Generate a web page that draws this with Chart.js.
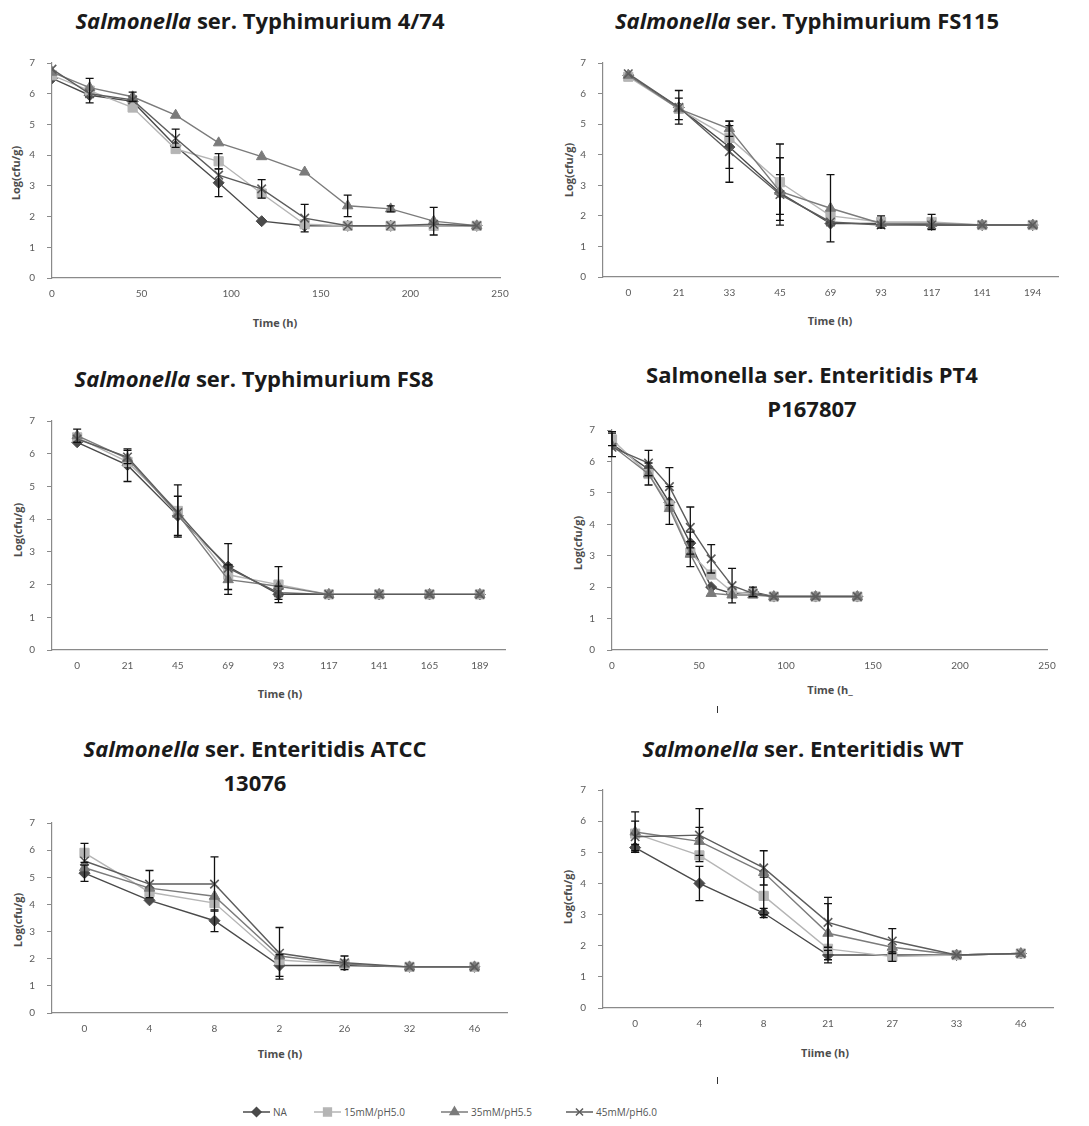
<!DOCTYPE html>
<html>
<head>
<meta charset="utf-8">
<script src="https://cdn.jsdelivr.net/npm/chart.js@4.4.0/dist/chart.umd.min.js"></script>
<style>
  body { margin: 0; background: #fff; }
  #page { position: relative; width: 1089px; height: 1126px; font-family: "Open Sans", Lato, sans-serif; }
  .title { position: absolute; transform: translate(-50%, -50%); font-weight: bold; font-size: 22px; color: #1a1a1a; white-space: nowrap; text-align: center; line-height: 34px; }
  .xt { position: absolute; transform: translate(-50%, -50%); font-weight: bold; font-size: 11px; color: #4d4d4d; white-space: nowrap; }
  .yt { position: absolute; transform: translate(-50%, -50%) rotate(-90deg); font-weight: bold; font-size: 11px; color: #4d4d4d; white-space: nowrap; }
  canvas.panel { position: absolute; }
  .mark { position: absolute; width: 1px; height: 7px; background: #333; }
  #legend { position: absolute; left: 0; top: 1104px; width: 1089px; height: 16px; }
  .item { position: absolute; top: 0; height: 16px; display: flex; align-items: center; font-size: 10px; color: #555; }
</style>
</head>
<body>
<div id="page">
  <div class="title" style="left:260px;top:20px"><i>Salmonella</i> ser. Typhimurium 4/74</div>
  <div class="title" style="left:807px;top:20px"><i>Salmonella</i> ser. Typhimurium FS115</div>
  <div class="title" style="left:254px;top:378px"><i>Salmonella</i> ser. Typhimurium FS8</div>
  <div class="title" style="left:812px;top:391px">Salmonella ser. Enteritidis PT4<br>P167807</div>
  <div class="title" style="left:255px;top:765px"><i>Salmonella</i> ser. Enteritidis ATCC<br>13076</div>
  <div class="title" style="left:803px;top:748px"><i>Salmonella</i> ser. Enteritidis WT</div>

  <div class="xt" style="left:275px;top:322px">Time (h)</div>
  <div class="xt" style="left:830px;top:320px">Time (h)</div>
  <div class="xt" style="left:280px;top:693px">Time (h)</div>
  <div class="xt" style="left:830px;top:689px">Time (h_</div>
  <div class="xt" style="left:280px;top:1053px">Time (h)</div>
  <div class="xt" style="left:825px;top:1052px">Tiime (h)</div>

  <div class="yt" style="left:15px;top:173px">Log(cfu/g)</div>
  <div class="yt" style="left:568px;top:170px">Log(cfu/g)</div>
  <div class="yt" style="left:17px;top:530px">Log(cfu/g)</div>
  <div class="yt" style="left:577px;top:543px">Log(cfu/g)</div>
  <div class="yt" style="left:17px;top:920px">Log(cfu/g)</div>
  <div class="yt" style="left:567px;top:897px">Log(cfu/g)</div>

  <div class="mark" style="left:717px;top:706px"></div>
  <div class="mark" style="left:717px;top:1077px"></div>

  <div id="legend"></div>
</div>
<script>
const seriesNames = ["NA", "15mM/pH5.0", "35mM/pH5.5", "45mM/pH6.0"];

// Typhimurium 4/74 (hours on a linear axis)
const t474Hours = [0, 21, 45, 69, 93, 117, 141, 165, 189, 213, 237];
const t474NA = [6.5, 5.95, 5.75, 4.3, 3.1, 1.85, 1.7, 1.7, 1.7, 1.7, 1.7];
const t474Mm15 = [6.6, 6.1, 5.55, 4.2, 3.8, 2.75, 1.75, 1.7, 1.7, 1.7, 1.7];
const t474Mm35 = [6.7, 6.2, 5.9, 5.3, 4.4, 3.95, 3.45, 2.35, 2.25, 1.85, 1.7];
const t474Mm45 = [6.8, 6.0, 5.8, 4.55, 3.35, 2.9, 1.95, 1.7, 1.7, 1.75, 1.7];
const t474ErrNA = [0, 0, 0, 0, 0.45, 0, 0, 0, 0, 0, 0];
const t474Err15 = [0, 0.4, 0, 0, 0.25, 0, 0, 0, 0, 0, 0];
const t474Err35 = [0, 0, 0.15, 0, 0, 0, 0, 0.35, 0.1, 0.45, 0];
const t474Err45 = [0, 0, 0, 0.3, 0, 0.3, 0.45, 0, 0, 0, 0];

// Typhimurium FS115
const fs115Labels = ["0", "21", "33", "45", "69", "93", "117", "141", "194"];
const fs115NA = [6.6, 5.55, 4.25, 2.75, 1.75, 1.75, 1.7, 1.7, 1.7];
const fs115Mm15 = [6.55, 5.5, 4.55, 3.1, 2.0, 1.8, 1.8, 1.7, 1.7];
const fs115Mm35 = [6.6, 5.5, 4.85, 2.8, 2.25, 1.75, 1.75, 1.7, 1.7];
const fs115Mm45 = [6.65, 5.55, 4.1, 2.7, 1.8, 1.7, 1.7, 1.7, 1.7];
const fs115ErrNA = [0, 0.55, 0.7, 0, 0, 0, 0, 0, 0];
const fs115Err15 = [0, 0.35, 0, 1.25, 0, 0.2, 0.25, 0, 0];
const fs115Err35 = [0, 0, 0.25, 1.1, 1.1, 0, 0, 0, 0];
const fs115Err45 = [0, 0, 1.0, 0.65, 0, 0, 0, 0, 0];

// Typhimurium FS8
const fs8Labels = ["0", "21", "45", "69", "93", "117", "141", "165", "189"];
const fs8NA = [6.35, 5.65, 4.1, 2.55, 1.7, 1.7, 1.7, 1.7, 1.7];
const fs8Mm15 = [6.5, 5.75, 4.25, 2.3, 2.0, 1.7, 1.7, 1.7, 1.7];
const fs8Mm35 = [6.55, 5.85, 4.15, 2.15, 1.95, 1.7, 1.7, 1.7, 1.7];
const fs8Mm45 = [6.45, 5.9, 4.2, 2.5, 1.75, 1.7, 1.7, 1.7, 1.7];
const fs8ErrNA = [0, 0.5, 0.6, 0.7, 0, 0, 0, 0, 0];
const fs8Err15 = [0, 0, 0.8, 0, 0.55, 0, 0, 0, 0];
const fs8Err35 = [0.2, 0, 0, 0.45, 0, 0, 0, 0, 0];
const fs8Err45 = [0, 0.2, 0, 0, 0.2, 0, 0, 0, 0];

// Enteritidis PT4 P167807 (hours on a linear axis)
const pt4Hours = [0, 21, 33, 45, 57, 69, 81, 93, 117, 141];
const pt4NA = [6.55, 5.75, 4.7, 3.4, 2.0, 1.8, 1.85, 1.7, 1.7, 1.7];
const pt4Mm15 = [6.7, 5.6, 4.6, 3.1, 2.4, 1.85, 1.8, 1.7, 1.7, 1.7];
const pt4Mm35 = [6.5, 5.6, 4.5, 3.05, 1.8, 1.75, 1.75, 1.7, 1.7, 1.7];
const pt4Mm45 = [6.45, 5.95, 5.2, 3.9, 2.9, 2.05, 1.8, 1.7, 1.7, 1.7];
const pt4ErrNA = [0.4, 0, 0, 0.35, 0, 0, 0.15, 0, 0, 0];
const pt4Err15 = [0.2, 0, 0.6, 0, 0, 0, 0, 0, 0, 0];
const pt4Err35 = [0, 0.35, 0, 0.4, 0, 0, 0, 0, 0, 0];
const pt4Err45 = [0, 0.4, 0.6, 0.65, 0.45, 0.55, 0, 0, 0, 0];

// Enteritidis ATCC 13076
const atccLabels = ["0", "4", "8", "2", "26", "32", "46"];
const atccNA = [5.15, 4.15, 3.4, 1.75, 1.75, 1.7, 1.7];
const atccMm15 = [5.9, 4.45, 4.05, 1.95, 1.8, 1.7, 1.7];
const atccMm35 = [5.35, 4.6, 4.3, 2.1, 1.8, 1.7, 1.7];
const atccMm45 = [5.6, 4.75, 4.75, 2.2, 1.85, 1.7, 1.7];
const atccErrNA = [0.3, 0, 0.4, 0.4, 0, 0, 0];
const atccErr15 = [0.35, 0, 0, 0, 0, 0, 0];
const atccErr35 = [0, 0, 0, 0, 0, 0, 0];
const atccErr45 = [0, 0.5, 1.0, 0.95, 0.25, 0, 0];

// Enteritidis WT
const wtLabels = ["0", "4", "8", "21", "27", "33", "46"];
const wtNA = [5.15, 4.0, 3.05, 1.7, 1.7, 1.7, 1.75];
const wtMm15 = [5.6, 4.9, 3.6, 1.9, 1.65, 1.7, 1.75];
const wtMm35 = [5.65, 5.35, 4.35, 2.4, 1.95, 1.7, 1.75];
const wtMm45 = [5.5, 5.55, 4.5, 2.75, 2.15, 1.7, 1.75];
const wtErrNA = [0.1, 0.55, 0.15, 0.15, 0, 0, 0];
const wtErr15 = [0, 0, 0.6, 0, 0.15, 0, 0];
const wtErr35 = [0.65, 0.45, 0, 0.95, 0, 0, 0];
const wtErr45 = [0.5, 0.85, 0.55, 0.8, 0.4, 0, 0];

const seriesStyle = [
  { color: "#4a4a4a", point: "rectRot", radius: 5.5 },
  { color: "#b5b5b5", point: "rect", radius: 6.5 },
  { color: "#7b7b7b", point: "triangle", radius: 6 },
  { color: "#5c5c5c", point: "crossRot", radius: 6 },
];

const axisGray = "#8a8a8a";
const tickFont = { family: "Lato, 'Open Sans', sans-serif", size: 10 };

// black error bars with short caps, drawn over the lines
const errorBars = {
  id: "errorBars",
  afterDatasetsDraw(chart) {
    const ctx = chart.ctx;
    const yScale = chart.scales.y;
    ctx.save();
    ctx.strokeStyle = "#111";
    ctx.lineWidth = 1.3;
    chart.data.datasets.forEach((ds, i) => {
      const meta = chart.getDatasetMeta(i);
      meta.data.forEach((pt, j) => {
        const e = ds.errors[j];
        if (!e) return;
        const v = meta.controller.getParsed(j).y;
        const top = yScale.getPixelForValue(v + e);
        const bottom = yScale.getPixelForValue(v - e);
        ctx.beginPath();
        ctx.moveTo(pt.x, top);
        ctx.lineTo(pt.x, bottom);
        ctx.moveTo(pt.x - 4, top);
        ctx.lineTo(pt.x + 4, top);
        ctx.moveTo(pt.x - 4, bottom);
        ctx.lineTo(pt.x + 4, bottom);
        ctx.stroke();
      });
    });
    ctx.restore();
  },
};

// box = plot area [left, top(7), right, bottom(0)]
function makePanel(box, xs, isLinear, values, errors) {
  const padL = 40, padT = 12, padR = 24, padB = 26;
  const canvas = document.createElement("canvas");
  const w = box[2] - box[0] + padL + padR;
  const h = box[3] - box[1] + padT + padB;
  canvas.width = w;
  canvas.height = h;
  canvas.className = "panel";
  canvas.style.left = (box[0] - padL) + "px";
  canvas.style.top = (box[1] - padT) + "px";
  document.getElementById("page").appendChild(canvas);

  // later series sit on top, so the 45mM crosses are drawn last
  const datasets = values.map((vals, k) => ({
    label: seriesNames[k],
    data: isLinear ? vals.map((v, i) => ({ x: xs[i], y: v })) : vals,
    errors: errors[k],
    order: values.length - k,
    borderColor: seriesStyle[k].color,
    backgroundColor: seriesStyle[k].color,
    pointStyle: seriesStyle[k].point,
    pointRadius: seriesStyle[k].radius,
    pointBorderWidth: seriesStyle[k].point === "crossRot" ? 1.6 : 1,
    borderWidth: 1.4,
    tension: 0,
  }));

  const xScale = isLinear
    ? { type: "linear", min: 0, max: 250, ticks: { stepSize: 50 } }
    : { type: "category", offset: true };

  new Chart(canvas, {
    type: "line",
    data: { labels: isLinear ? undefined : xs, datasets },
    options: {
      responsive: false,
      animation: false,
      events: [],
      layout: { padding: { top: padT, right: padR, left: 0, bottom: 0 } },
      plugins: { legend: { display: false }, tooltip: { enabled: false } },
      scales: {
        x: Object.assign(xScale, {
          grid: { display: true, drawOnChartArea: false, drawTicks: false, tickLength: 0 },
          border: { color: axisGray, width: 1.2 },
          ticks: Object.assign(xScale.ticks || {}, { color: "#5a5a5a", font: tickFont, padding: 10, maxRotation: 0, autoSkip: false }),
          afterFit: (s) => { s.height = padB; },
        }),
        y: {
          min: 0,
          max: 7,
          ticks: { stepSize: 1, color: "#5a5a5a", font: tickFont, padding: 12 },
          grid: { display: true, drawOnChartArea: false, tickLength: 5, color: axisGray },
          border: { color: axisGray, width: 1.2 },
          afterFit: (s) => { s.width = padL; },
        },
      },
    },
    plugins: [errorBars],
  });
}

makePanel([52, 57, 500, 278], t474Hours, true,
  [t474NA, t474Mm15, t474Mm35, t474Mm45], [t474ErrNA, t474Err15, t474Err35, t474Err45]);
makePanel([603, 57, 1058, 277], fs115Labels, false,
  [fs115NA, fs115Mm15, fs115Mm35, fs115Mm45], [fs115ErrNA, fs115Err15, fs115Err35, fs115Err45]);
makePanel([52, 415, 505, 650], fs8Labels, false,
  [fs8NA, fs8Mm15, fs8Mm35, fs8Mm45], [fs8ErrNA, fs8Err15, fs8Err35, fs8Err45]);
makePanel([612, 424, 1047, 650], pt4Hours, true,
  [pt4NA, pt4Mm15, pt4Mm35, pt4Mm45], [pt4ErrNA, pt4Err15, pt4Err35, pt4Err45]);
makePanel([52, 817, 507, 1013], atccLabels, false,
  [atccNA, atccMm15, atccMm35, atccMm45], [atccErrNA, atccErr15, atccErr35, atccErr45]);
makePanel([603, 784, 1053, 1008], wtLabels, false,
  [wtNA, wtMm15, wtMm35, wtMm45], [wtErrNA, wtErr15, wtErr35, wtErr45]);

// shared legend: short line with the series marker, then its name
const legendX = [242, 313, 440, 565];
const legend = document.getElementById("legend");
seriesNames.forEach((name, k) => {
  const item = document.createElement("div");
  item.className = "item";
  item.style.left = legendX[k] + "px";
  const c = document.createElement("canvas");
  c.width = 29;
  c.height = 16;
  const ctx = c.getContext("2d");
  ctx.strokeStyle = seriesStyle[k].color;
  ctx.fillStyle = seriesStyle[k].color;
  ctx.lineWidth = 1.5;
  ctx.beginPath();
  ctx.moveTo(1, 8);
  ctx.lineTo(28, 8);
  ctx.stroke();
  Chart.helpers.drawPoint(ctx, {
    pointStyle: seriesStyle[k].point,
    radius: seriesStyle[k].radius - 1,
    rotation: 0,
    borderWidth: seriesStyle[k].point === "crossRot" ? 1.5 : 1,
  }, 14.5, 8);
  const label = document.createElement("span");
  label.textContent = name;
  label.style.marginLeft = "2px";
  item.appendChild(c);
  item.appendChild(label);
  legend.appendChild(item);
});
</script>
</body>
</html>
